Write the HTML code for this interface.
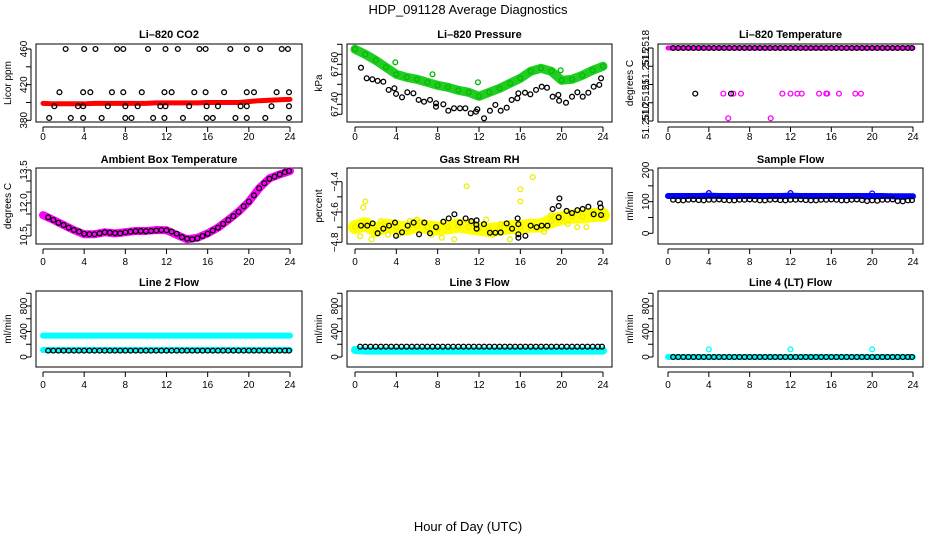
<!DOCTYPE html>
<html><head><meta charset="utf-8"><style>
html,body{margin:0;padding:0;background:#fff}
svg{display:block;font-family:"Liberation Sans",sans-serif}
</style></head><body>
<svg id="c" width="936" height="540" viewBox="0 0 936 540">
<text x="468" y="14" text-anchor="middle" font-size="13">HDP_091128  Average Diagnostics</text>
<text x="468" y="531" text-anchor="middle" font-size="13">Hour of Day (UTC)</text>
</svg>
<script>
// ---- data ----
const xTicks=[0,4,8,12,16,20,24];
const hourly=[0,1,2,3,4,5,6,7,8,9,10,11,12,13,14,15,16,17,18,19,20,21,22,23,24];
const halfHours=[0.5,1,1.5,2,2.5,3,3.5,4,4.5,5,5.5,6,6.5,7,7.5,8,8.5,9,9.5,10,10.5,11,11.5,12,12.5,13,13.5,14,14.5,15,15.5,16,16.5,17,17.5,18,18.5,19,19.5,20,20.5,21,21.5,22,22.5,23,23.5,23.9];
// CO2
const co2Red=[399,398.5,398.5,398.5,398.5,399,399,399,399,399,399,399.5,399.5,399.5,399.5,399.5,400,400,400,400,401,402,402.5,403,403.5];
const co2Hrs=[2.2,4.0,5.1,7.2,7.8,10.2,11.9,13.1,15.2,15.8,18.2,19.8,21.1,23.2,23.8, 1.6,3.9,4.6,6.7,7.8,9.6,11.8,12.5,14.7,15.8,17.6,19.8,20.5,22.7,23.9, 1.1,3.4,3.9,6.3,8.0,9.2,11.4,11.9,14.2,15.9,17.0,19.2,19.8,22.2,23.9, 0.6,2.7,3.9,5.7,8.0,8.6,10.7,11.8,13.6,15.9,16.5,18.7,19.8,21.6,23.9];
const co2Vals=[460,460,460,460,460,460,460,460,460,460,460,460,460,460,460, 411.5,411.5,411.5,411.5,411.5,411.5,411.5,411.5,411.5,411.5,411.5,411.5,411.5,411.5,411.5, 395.8,395.8,395.8,395.8,395.8,395.8,395.8,395.8,395.8,395.8,395.8,395.8,395.8,395.8,395.8, 382.6,382.6,382.6,382.6,382.6,382.6,382.6,382.6,382.6,382.6,382.6,382.6,382.6,382.6,382.6];
// Pressure
const presGreen=[67.675,67.65,67.62,67.585,67.55,67.535,67.525,67.51,67.495,67.485,67.47,67.46,67.44,67.46,67.48,67.505,67.53,67.565,67.58,67.565,67.52,67.525,67.545,67.57,67.59];
const presOutHrs=[3.9,11.9,19.9,7.5];
const presOutVals=[67.61,67.51,67.57,67.55];
const presHrs=[0.58,1.13,1.68,2.19,2.74,3.26,3.81,3.97,4.55,5.06,5.65,6.16,6.68,7.26,7.84,7.84,8.55,9.03,9.58,10.16,10.68,11.2,11.71,11.84,12.49,13.06,13.58,14.1,14.68,15.16,15.71,15.81,16.45,16.97,17.52,18.07,18.58,19.13,19.68,19.75,20.42,21.0,21.52,22.04,22.58,23.1,23.64,23.81];
const presVals=[67.583,67.53,67.525,67.517,67.513,67.472,67.48,67.452,67.435,67.46,67.455,67.422,67.413,67.422,67.388,67.405,67.40,67.368,67.38,67.38,67.38,67.355,67.363,67.375,67.33,67.368,67.397,67.368,67.383,67.422,67.43,67.455,67.458,67.45,67.472,67.488,67.483,67.438,67.447,67.418,67.408,67.438,67.46,67.438,67.458,67.488,67.497,67.53];
// Li-820 temperature
const tempTop=[51.2518,51.2518,51.2518,51.2518,51.2518,51.2518,51.2518,51.2518,51.2518,51.2518,51.2518,51.2518,51.2518,51.2518,51.2518,51.2518,51.2518,51.2518,51.2518,51.2518,51.2518,51.2518,51.2518,51.2518,51.2518];
const tempMagHrs=[5.42,6.4,7.15,11.2,12.0,12.67,13.1,14.8,15.5,15.6,16.75,18.35,18.9,5.9,10.06];
const tempMagVals=[51.2513,51.2513,51.2513,51.2513,51.2513,51.2513,51.2513,51.2513,51.2513,51.2513,51.2513,51.2513,51.2513,51.25103,51.25103];
const tempBlkHrs=[2.67,6.17];
const tempBlkVals=[51.2513,51.2513];
// Ambient box temperature
const ambMag=[11.45,11.23,11.0,10.77,10.58,10.58,10.67,10.62,10.67,10.73,10.73,10.77,10.76,10.55,10.35,10.42,10.62,10.88,11.23,11.6,12.06,12.67,13.12,13.3,13.45];
const ambBlk=[11.35,11.23,11.1,11.0,10.88,10.77,10.7,10.6,10.58,10.58,10.62,10.67,10.65,10.63,10.62,10.67,10.7,10.72,10.73,10.72,10.73,10.75,10.77,10.76,10.7,10.6,10.45,10.38,10.35,10.4,10.5,10.6,10.75,10.88,11.05,11.23,11.4,11.6,11.85,12.06,12.35,12.67,12.9,13.1,13.2,13.3,13.4,13.46];
// Gas stream RH
const rhYel=[-4.70,-4.68,-4.72,-4.69,-4.70,-4.71,-4.69,-4.70,-4.71,-4.70,-4.69,-4.70,-4.71,-4.72,-4.71,-4.70,-4.70,-4.69,-4.69,-4.66,-4.64,-4.63,-4.63,-4.62,-4.62];
const rhYelHrs=[0.8,1.0,10.8,16.0,16.0,17.2,0.5,1.6,9.6,15.0,2.5,3.2,6.0,8.4,13.3,12.7,18.3,21.5,22.4,23.0,5.3,7.4,4.2,11.2,14.1,19.0,20.6];
const rhYelVals=[-4.57,-4.53,-4.43,-4.45,-4.53,-4.37,-4.76,-4.78,-4.78,-4.78,-4.66,-4.75,-4.65,-4.77,-4.75,-4.65,-4.73,-4.70,-4.70,-4.60,-4.66,-4.75,-4.75,-4.67,-4.68,-4.62,-4.68];
const rhHrs=[0.58,1.19,1.71,2.19,2.74,3.29,3.87,3.97,4.55,5.10,5.68,6.20,6.71,7.26,7.84,8.55,9.07,9.62,10.16,10.71,11.26,11.74,11.77,11.77,12.48,13.06,13.58,14.10,14.68,15.20,15.74,15.81,15.81,15.81,16.49,17.0,17.58,18.07,18.62,19.13,19.71,19.78,19.71,20.48,21.0,21.52,22.03,22.58,23.10,23.71,23.78,23.81];
const rhVals=[-4.69,-4.69,-4.675,-4.74,-4.71,-4.69,-4.67,-4.757,-4.734,-4.69,-4.67,-4.747,-4.67,-4.74,-4.70,-4.664,-4.642,-4.615,-4.67,-4.642,-4.66,-4.684,-4.655,-4.71,-4.68,-4.737,-4.737,-4.735,-4.675,-4.71,-4.642,-4.68,-4.747,-4.77,-4.757,-4.69,-4.70,-4.69,-4.69,-4.58,-4.56,-4.51,-4.635,-4.593,-4.607,-4.588,-4.58,-4.565,-4.615,-4.543,-4.57,-4.62];
// Sample flow
const sfBlue=[118,118,118,118,119,118,118,118,118,118,118,118,119,118,118,118,118,118,118,118,118,118,117,117,117];
const sfOutHrs=[4,12,20];
const sfOutVals=[127,127,126];
const sfBlk=[106,104,104,106,107,105,104,106,106,107,105,104,104,106,106,107,106,104,104,106,107,105,104,106,106,107,105,104,104,106,106,107,106,104,104,106,107,105,102,104,103,106,106,107,102,101,104,105];
// Line 2
const l2CyanHi=[335,335,335,335,335,335,335,335,335,335,335,335,335,335,335,335,335,335,335,335,335,335,335,335,335];
const l2CyanLo=[110,110,110,110,110,110,110,110,110,110,110,110,110,110,110,110,110,110,110,110,110,110,110,110,110];
const l2Blk=[100,100,100,100,100,100,100,100,100,100,100,100,100,100,100,100,100,100,100,100,100,100,100,100,100,100,100,100,100,100,100,100,100,100,100,100,100,100,100,100,100,100,100,100,100,100,100,100];
// Line 3
const l3Cyan=[110,100,100,100,100,100,100,100,100,100,100,100,100,100,100,100,100,100,100,100,100,100,100,100,100];
const l3Blk=[162,162,162,162,162,162,162,162,162,162,162,162,162,162,162,162,162,162,162,162,162,162,162,162,162,162,162,162,162,162,162,162,162,162,162,162,162,162,162,162,162,162,162,162,162,162,162,162];
// Line 4
const l4Cyan=[0,0,0,0,0,0,0,0,0,0,0,0,0,0,0,0,0,0,0,0,0,0,0,0,0];
const l4OutHrs=[4,12,20];
const l4OutVals=[120,120,120];
const l4Blk=[0,0,0,0,0,0,0,0,0,0,0,0,0,0,0,0,0,0,0,0,0,0,0,0,0,0,0,0,0,0,0,0,0,0,0,0,0,0,0,0,0,0,0,0,0,0,0,0];

// ---- drawing ----
const svg=document.getElementById('c');
const NS='http://www.w3.org/2000/svg';
function mk(tag,parent){const e=document.createElementNS(NS,tag);parent.appendChild(e);return e;}
const cols=[{l:36,r:302,x0:43,x24:290,yt:10},{l:347,r:612,x0:355,x24:603,yt:321},{l:658,r:923,x0:668,x24:913,yt:632}];
const rows=[{t:44,b:122,title:34,lab:140},{t:168,b:244,title:159,lab:265},{t:291,b:367,title:282,lab:388}];

function panel(name,title,ylab,ci,ri,v1,p1,v2,p2,yticks,ylabels){
  const c=cols[ci],r=rows[ri];
  const g=mk('g',svg);
  
  
  const xs=h=>c.x0+(c.x24-c.x0)*h/24;
  const ys=v=>p1+(v-v1)*(p2-p1)/(v2-v1);
  const tt=mk('text',g);
  
  
  tt.setAttribute('x',(c.l+c.r)/2);tt.setAttribute('y',r.title+4);tt.setAttribute('text-anchor','middle');
  tt.setAttribute('font-size','11');tt.setAttribute('font-weight','bold');tt.textContent=title;
  const box=mk('rect',g);
  
  
  box.setAttribute('x',c.l);box.setAttribute('y',r.t);box.setAttribute('width',c.r-c.l);box.setAttribute('height',r.b-r.t);
  box.setAttribute('fill','none');box.setAttribute('stroke','#000');
  xTicks.forEach(h=>{
    const ln=mk('line',g);
    
    
    ln.setAttribute('x1',xs(h));ln.setAttribute('x2',xs(h));ln.setAttribute('y1',r.b+5);ln.setAttribute('y2',r.b+10);ln.setAttribute('stroke','#000');
    const t=mk('text',g);
    
    
    t.setAttribute('x',xs(h));t.setAttribute('y',r.lab);t.setAttribute('text-anchor','middle');t.setAttribute('font-size','10');t.textContent=h;
  });
  const ax=mk('line',g);
  
  
  ax.setAttribute('x1',xs(0));ax.setAttribute('x2',xs(24));ax.setAttribute('y1',r.b+5);ax.setAttribute('y2',r.b+5);ax.setAttribute('stroke','#000');
  const ay=mk('line',g);
  
  
  ay.setAttribute('x1',c.l-5);ay.setAttribute('x2',c.l-5);ay.setAttribute('y1',ys(yticks[0]));ay.setAttribute('y2',ys(yticks[yticks.length-1]));ay.setAttribute('stroke','#000');
  yticks.forEach((v,i)=>{
    const ln=mk('line',g);
    
    
    ln.setAttribute('x1',c.l-10);ln.setAttribute('x2',c.l-5);ln.setAttribute('y1',ys(v));ln.setAttribute('y2',ys(v));ln.setAttribute('stroke','#000');
    if(ylabels[i]){
      const t=mk('text',g);
      
      
      const x=c.l-9,y=ys(v);
      t.setAttribute('transform','translate('+x+','+y+') rotate(-90)');t.setAttribute('text-anchor','middle');t.setAttribute('font-size','10');t.textContent=ylabels[i];
    }
  });
  const yl=mk('text',g);
  
  
  yl.setAttribute('transform','translate('+(c.yt+1)+','+((r.t+r.b)/2)+') rotate(-90)');yl.setAttribute('text-anchor','middle');yl.setAttribute('font-size','10');yl.textContent=ylab;
  return {g,xs,ys};
}
function band(P,hrs,vals,color,w,name){
  const pl=mk('polyline',P.g);
  
  
  pl.setAttribute('points',hrs.map((h,i)=>P.xs(h)+','+P.ys(vals[i])).join(' '));
  pl.setAttribute('fill','none');pl.setAttribute('stroke',color);pl.setAttribute('stroke-width',w);pl.setAttribute('stroke-linejoin','round');pl.setAttribute('stroke-linecap','round');
}
function pts(P,hrs,vals,color,name){
  hrs.forEach((h,i)=>{
    const c=mk('circle',P.g);
    
    
    c.setAttribute('cx',P.xs(h));c.setAttribute('cy',P.ys(vals[i]));c.setAttribute('r',2.4);
    c.setAttribute('fill','none');c.setAttribute('stroke',color);c.setAttribute('stroke-width',1.3);
  });
}
const K='#000',M='#ff00ff',Cy='#00ffff';
let P;
P=panel('co2-panel','Li\u2013820 CO2','Licor ppm',0,0,460,49,380,120.3,[380,400,420,440,460],['380','','420','','460']);
band(P,hourly,co2Red,'#ff0000',5,'co2-red-series');pts(P,co2Hrs,co2Vals,K,'co2-point');
P=panel('pressure-panel','Li\u2013820 Pressure','kPa',1,0,67.60,64.3,67.40,104.3,[67.35,67.40,67.45,67.50,67.55,67.60,67.65,67.70],['','67.40','','','','67.60','','']);
band(P,hourly,presGreen,'#22cc22',9,'pressure-green-series');pts(P,hourly,presGreen,'#00bb00','pressure-green-point');pts(P,presOutHrs,presOutVals,'#00bb00','pressure-green-outlier');pts(P,presHrs,presVals,K,'pressure-point');
P=panel('li820-temp-panel','Li\u2013820 Temperature','degrees C',2,0,51.2518,48,51.2510,121,[51.2510,51.2512,51.2514,51.2516,51.2518],['51.2510','51.2512','51','51.2515','51.2518']);
band(P,hourly,tempTop,M,5,'temp-magenta-series');pts(P,halfHours,tempTop.concat(tempTop).slice(0,48),K,'temp-black-point');pts(P,tempMagHrs,tempMagVals,M,'temp-magenta-point');pts(P,tempBlkHrs,tempBlkVals,K,'temp-black-mid-point');
P=panel('ambient-temp-panel','Ambient Box Temperature','degrees C',0,1,13.5,170,10.5,236,[10.5,11.0,11.5,12.0,12.5,13.0,13.5],['10.5','','','12.0','','','13.5']);
band(P,hourly,ambMag,M,8,'ambient-magenta-series');pts(P,halfHours,ambBlk,K,'ambient-point');
P=panel('rh-panel','Gas Stream RH','percent',1,1,-4.4,181.7,-4.8,242.3,[-4.8,-4.7,-4.6,-4.5,-4.4],['\u22124.8','','\u22124.6','','\u22124.4']);
band(P,hourly,rhYel,'#ffff00',14,'rh-yellow-series');pts(P,hourly,rhYel,'#eeee00','rh-yellow-point');pts(P,rhYelHrs,rhYelVals,'#eeee00','rh-yellow-outlier');pts(P,rhHrs,rhVals,K,'rh-point');
P=panel('sample-flow-panel','Sample Flow','ml/min',2,1,200,170,0,233.3,[0,50,100,150,200],['0','','100','','200']);
band(P,hourly,sfBlue,'#0000ff',6,'sample-flow-blue-series');pts(P,sfOutHrs,sfOutVals,'#0000ff','sample-flow-outlier');pts(P,halfHours,sfBlk,K,'sample-flow-point');
P=panel('line2-flow-panel','Line 2 Flow','ml/min',0,2,800,306,0,357,[0,200,400,600,800,1000],['0','','400','','800','']);
band(P,hourly,l2CyanHi,Cy,6,'line2-cyan-high');band(P,hourly,l2CyanLo,Cy,6,'line2-cyan-low');pts(P,halfHours,l2Blk,K,'line2-point');
P=panel('line3-flow-panel','Line 3 Flow','ml/min',1,2,800,306,0,357,[0,200,400,600,800,1000],['0','','400','','800','']);
band(P,hourly,l3Cyan,Cy,8,'line3-cyan-series');pts(P,halfHours,l3Blk,K,'line3-point');
P=panel('line4-flow-panel','Line 4 (LT) Flow','ml/min',2,2,800,306,0,357,[0,200,400,600,800,1000],['0','','400','','800','']);
band(P,hourly,l4Cyan,Cy,6,'line4-cyan-series');pts(P,l4OutHrs,l4OutVals,Cy,'line4-outlier');pts(P,halfHours,l4Blk,K,'line4-point');
</script>
</body></html>
